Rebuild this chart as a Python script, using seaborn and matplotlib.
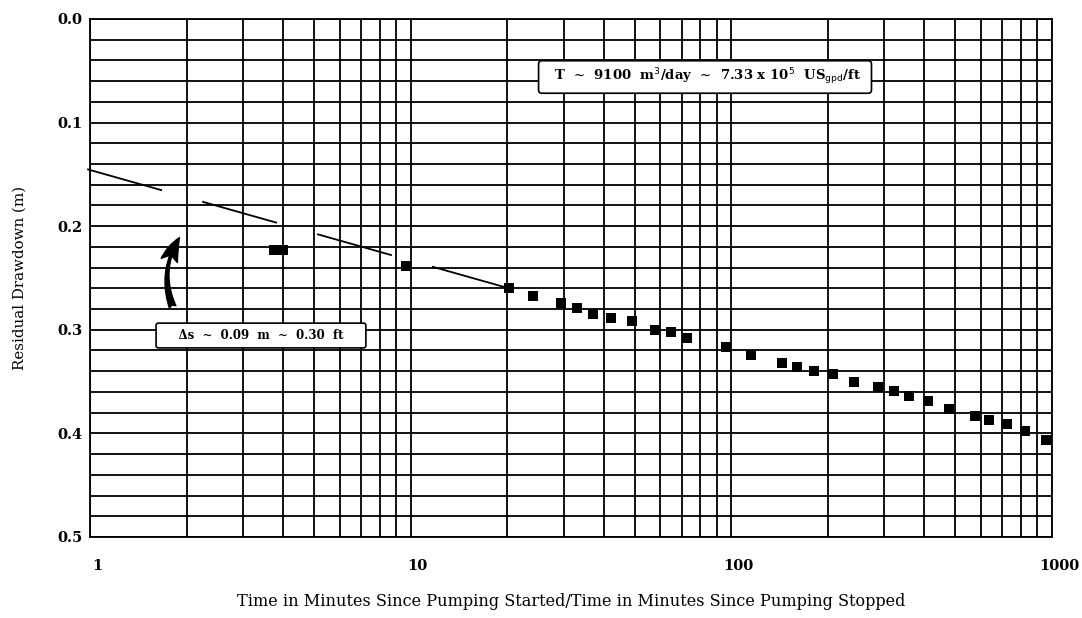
import matplotlib
matplotlib.use("Agg")
import matplotlib.pyplot as plt
import matplotlib.ticker as mticker
import matplotlib.transforms as mtransforms
import seaborn as sns
import pandas as pd

# Recovery test readings (time ratio in minutes, residual drawdown in m)
time_ratio = [3.75, 4.0, 9.7, 20.2, 24.0, 29.5, 33.0, 37.0, 42.0, 49.0,
              58.0, 65.0, 72.5, 96.0, 115, 144, 160, 181, 207, 242,
              287, 322, 358, 410, 476, 574, 638, 722, 823, 960]
residual_dd = [0.223, 0.223, 0.238, 0.260, 0.267, 0.274, 0.279, 0.285, 0.289, 0.292,
               0.300, 0.302, 0.308, 0.317, 0.324, 0.332, 0.336, 0.340, 0.343, 0.350,
               0.355, 0.359, 0.364, 0.369, 0.376, 0.383, 0.387, 0.391, 0.398, 0.406]

# hand-drawn fitted straight line (end points)
fit_t = [0.98, 20.8]
fit_s = [0.145, 0.261]

x_ticks = [1, 10, 100, 1000]
x_ticklabels = ["1", "10", "100", "1000"]
y_ticks = [0.0, 0.1, 0.2, 0.3, 0.4, 0.5]
y_ticklabels = ["0.0", "0.1", "0.2", "0.3", "0.4", "0.5"]

df = pd.DataFrame({"t": time_ratio, "s": residual_dd})
fit = pd.DataFrame({"t": fit_t, "s": fit_s})

sns.set_theme(style="white")
plt.rcParams["font.family"] = ["DejaVu Serif"]

fig = plt.figure(figsize=(10.82, 6.18), dpi=100)
ax = fig.add_axes([0.0832, 0.1311, 0.8891, 0.8382])

ax.set_xscale("log")
ax.set_xlim(1, 1000)
ax.set_ylim(0.5, 0.0)

# grid lines like log paper
ax.xaxis.set_major_locator(mticker.FixedLocator(x_ticks))
ax.xaxis.set_minor_locator(mticker.LogLocator(base=10, subs=[2, 3, 4, 5, 6, 7, 8, 9]))
ax.xaxis.set_minor_formatter(mticker.NullFormatter())
ax.yaxis.set_major_locator(mticker.FixedLocator(y_ticks))
ax.yaxis.set_minor_locator(mticker.MultipleLocator(0.02))
ax.grid(which="both", color="black", linewidth=1.3)
ax.set_axisbelow(True)

lw = 1.3
sns.lineplot(data=fit, x="t", y="s", ax=ax, color="black", linewidth=lw,
             linestyle=(0, (56 / lw, 30 / lw)), clip_on=False, zorder=3)
sns.scatterplot(data=df, x="t", y="s", ax=ax, marker="s", s=60,
                color="black", linewidth=0, zorder=4)

ax.set_xticks(x_ticks)
ax.set_xticklabels(x_ticklabels)
ax.set_yticks(y_ticks)
ax.set_yticklabels(y_ticklabels)
ax.tick_params(axis="both", which="major", direction="out", length=4, width=1.2,
               color="black", labelsize=10.5, labelcolor="black")
ax.tick_params(axis="x", which="major", pad=12)
ax.tick_params(axis="y", which="major", pad=1.5)
ax.tick_params(which="minor", length=0)
for lab in ax.get_xticklabels() + ax.get_yticklabels():
    lab.set_fontweight("bold")
shift = mtransforms.ScaledTranslation(5 / 72, 0, fig.dpi_scale_trans)
for lab in ax.get_xticklabels():
    lab.set_transform(lab.get_transform() + shift)

for sp in ax.spines.values():
    sp.set_color("black")
    sp.set_linewidth(1.3)

ax.set_xlabel("Time in Minutes Since Pumping Started/Time in Minutes Since Pumping Stopped",
              fontsize=11.6, color="black")
ax.set_ylabel("Residual Drawdown (m)", fontsize=10.8, color="black")
ax.xaxis.set_label_coords(0.5, -0.108)
ax.yaxis.set_label_coords(-0.066, 0.5)

# annotation boxes
fig.text(0.6516, 0.8754,
         r"  T  ~  9100  m$^3$/day  ~  7.33 x 10$^5$  US$_{\rm gpd}$/ft  ",
         ha="center", va="center", fontsize=9.5, fontweight="bold", color="black",
         bbox=dict(boxstyle="round,pad=0.45,rounding_size=0.25", fc="white", ec="black", lw=1.2),
         zorder=5)
fig.text(0.2412, 0.4571, "    \u0394s  ~  0.09  m  ~  0.30  ft    ",
         ha="center", va="center", fontsize=8.5, fontweight="bold", color="black",
         bbox=dict(boxstyle="round,pad=0.5,rounding_size=0.2", fc="white", ec="black", lw=1.2),
         zorder=5)

ax.annotate("", xy=(1.90, 0.211), xytext=(1.81, 0.278),
            arrowprops=dict(arrowstyle="fancy,head_length=0.9,head_width=0.6,tail_width=0.25",
                            connectionstyle="arc3,rad=-0.25", fc="black", ec="black",
                            mutation_scale=20, shrinkA=0, shrinkB=0),
            zorder=5)

fig.savefig("out.png", dpi=100)
